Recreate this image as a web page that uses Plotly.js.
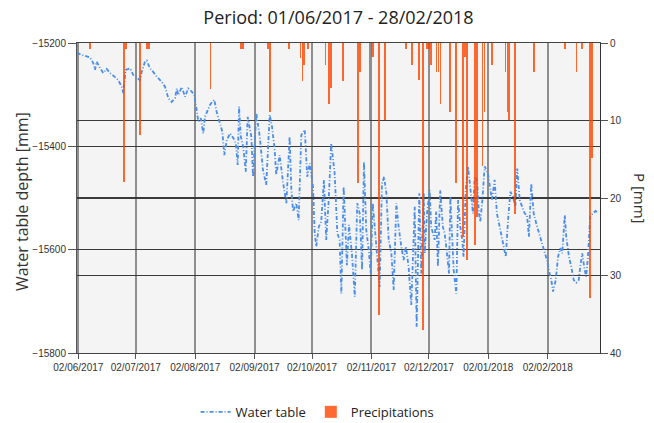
<!DOCTYPE html>
<html>
<head>
<meta charset="utf-8">
<script src="https://cdn.plot.ly/plotly-3.0.1.min.js"></script>
<style>html,body{margin:0;padding:0;background:#fff;}#chart{width:654px;height:423px;}</style>
</head>
<body>
<div id="chart"></div>
<script>
// Day offsets from 01/06/2017 00:00 and water table depth [mm]
const wtDay = [
0.2,2.8,7.1,8.8,9.7,10.6,12.3,14.0,15.8,17.5,
20.2,21.9,23.7,24.5,25.7,28.0,29.7,31.5,33.2,34.1,
35.8,36.7,38.4,40.1,41.9,44.5,46.3,48.0,49.7,51.5,
52.4,53.2,55.0,56.7,58.4,60.2,61.5,62.8,63.6,65.0,
66.2,67.1,68.5,69.7,70.9,72.0,73.2,75.0,76.2,77.2,
78.5,80.2,81.9,83.2,84.2,84.9,85.8,87.1,88.4,89.4,
91.3,92.2,93.9,95.7,97.4,99.1,100.9,102.1,103.5,104.3,
106.1,107.8,109.6,111.3,112.2,113.1,114.8,116.0,117.4,119.2,
120.5,121.8,123.5,124.4,125.2,126.5,127.8,129.2,130.4,131.7,
133.0,134.8,136.2,137.4,138.3,139.5,140.6,141.2,142.3,143.8,
145.3,146.6,147.9,149.1,150.1,151.3,152.6,153.6,154.7,155.7,
157.1,158.3,159.5,160.6,161.8,163.0,164.4,165.6,167.0,168.2,
169.6,170.8,172.0,173.4,174.8,176.6,177.6,179.0,180.0,181.3,
181.8,183.0,184.4,185.2,187.0,187.8,188.7,189.9,191.3,192.2,
193.4,194.5,195.2,196.2,196.9,198.3,199.2,200.4,201.4,202.1,
203.2,204.4,205.3,206.1,207.0,207.9,209.1,210.1,210.8,211.9,
213.1,214.8,215.7,216.9,218.3,219.5,221.3,223.0,224.1,225.3,
226.5,227.9,229.1,230.1,231.4,232.7,234.0,235.2,236.2,237.4,
238.7,240.0,241.4,242.6,243.9,245.6,247.0,247.9,248.8,250.2,
251.4,252.6,253.6,254.9,255.7,257.1,258.3,259.6,260.9,262.2,
263.0,264.0,265.3,266.1,267.0,268.2,269.6,271.0,272.2
];
const wtDepth = [
-15219,-15223,-15228,-15239,-15252,-15236,-15248,-15258,-15250,-15258,
-15266,-15272,-15285,-15297,-15252,-15249,-15262,-15268,-15272,-15256,
-15236,-15234,-15249,-15256,-15265,-15275,-15285,-15307,-15314,-15307,
-15288,-15301,-15285,-15304,-15288,-15294,-15301,-15330,-15352,-15346,
-15375,-15343,-15330,-15320,-15314,-15310,-15333,-15355,-15372,-15417,
-15388,-15375,-15384,-15394,-15436,-15323,-15381,-15401,-15449,-15343,
-15381,-15459,-15336,-15381,-15446,-15475,-15339,-15362,-15407,-15455,
-15417,-15468,-15510,-15381,-15484,-15526,-15510,-15543,-15378,-15368,
-15459,-15433,-15478,-15568,-15594,-15556,-15546,-15465,-15581,-15504,
-15394,-15452,-15568,-15581,-15685,-15478,-15581,-15630,-15552,-15607,
-15691,-15510,-15530,-15639,-15430,-15562,-15601,-15646,-15510,-15556,
-15607,-15672,-15472,-15459,-15491,-15581,-15607,-15678,-15510,-15556,
-15594,-15620,-15594,-15633,-15707,-15517,-15749,-15491,-15646,-15491,
-15607,-15530,-15485,-15556,-15581,-15526,-15633,-15485,-15556,-15568,
-15607,-15646,-15497,-15581,-15639,-15685,-15504,-15556,-15581,-15614,
-15485,-15439,-15472,-15497,-15530,-15459,-15465,-15530,-15546,-15504,
-15439,-15452,-15478,-15504,-15465,-15530,-15562,-15594,-15614,-15543,
-15488,-15497,-15517,-15443,-15504,-15517,-15530,-15533,-15575,-15472,
-15530,-15549,-15568,-15581,-15601,-15620,-15646,-15659,-15681,-15659,
-15614,-15597,-15607,-15533,-15575,-15614,-15633,-15659,-15664,-15659,
-15633,-15607,-15639,-15652,-15614,-15536,-15530,-15525,-15528
];

// Precipitation: day offset from 01/06/2017 and P [mm]
const pDay = [7,25,26,33,37,38,70,86,87,100,
101,111,117,118,119,121,130,132,133,139,
147,148,153,154,155,158,161,172,175,179,
181,183,184,185,188,189,190,195,198,202,
203,204,208,209,212,213,217,224,225,226,
229,239,255,261,264,268,269];
const pVal = [0.8,17.9,0.8,11.9,0.8,0.8,5.9,0.8,0.8,0.8,
8.9,0.8,1.9,4.9,2.8,0.8,2.8,7.9,5.8,4.9,
18.0,3.8,9.9,1.8,1.8,35.1,9.9,0.8,2.8,4.8,
37.0,0.8,0.8,2.8,3.8,3.8,7.9,8.9,18.0,25.0,
1.8,28.0,26.0,22.4,15.9,8.9,2.8,3.8,8.9,9.9,
22.0,3.8,0.8,3.8,0.8,32.9,14.9];

const tickDates = ['2017-06-02','2017-07-02','2017-08-02','2017-09-02','2017-10-02','2017-11-02','2017-12-02','2018-01-02','2018-02-02'];
const tickLabels = ['02/06/2017','02/07/2017','02/08/2017','02/09/2017','02/10/2017','02/11/2017','02/12/2017','02/01/2018','02/02/2018'];

const DAY = 86400000;
const T0 = Date.UTC(2017, 5, 1);
const toDate = d => T0 + d * DAY;

const tickFont = {family: 'Liberation Sans Narrow, Liberation Sans, Arial, sans-serif', size: 10, color: '#333'};

const traces = [
  {
    type: 'scatter', mode: 'lines', name: 'Water table',
    x: wtDay.map(toDate), y: wtDepth,
    line: {color: '#4a8eea', width: 1.8, dash: '4px,2px,1px,2px'},
    yaxis: 'y'
  },
  {
    type: 'bar', name: 'Precipitations',
    x: pDay.map(toDate), y: pVal,
    width: 0.95 * DAY,
    marker: {color: '#ff4500', line: {width: 0}},
    opacity: 0.8,
    yaxis: 'y2'
  }
];

const layout = {
  width: 654, height: 423,
  margin: {l: 77, r: 54, t: 43, b: 70, autoexpand: false},
  paper_bgcolor: '#ffffff', plot_bgcolor: '#f4f4f4',
  title: {text: 'Period: 01/06/2017 - 28/02/2018', font: {family: 'Open Sans, sans-serif', size: 18, color: '#222'},
          x: 0.5, xref: 'paper', xanchor: 'center', y: 1 - 18/423, yref: 'container', yanchor: 'middle'},
  xaxis: {
    type: 'date', range: [toDate(0.32), toDate(273.3)],
    tickmode: 'array', tickvals: tickDates, ticktext: tickLabels,
    showgrid: true, gridcolor: '#8e8e8e', gridwidth: 2,
    ticks: 'outside', ticklen: 5, tickcolor: '#555',
    showline: true, linecolor: '#444', linewidth: 1, mirror: true,
    zeroline: false, tickfont: tickFont, automargin: false
  },
  yaxis: {
    range: [-15800, -15200], tick0: -15800, dtick: 200, tickformat: 'd',
    ticks: 'outside', ticklen: 8, tickcolor: '#555',
    showgrid: true, gridcolor: '#3a3a3a', gridwidth: 1.5,
    showline: true, linecolor: '#555', linewidth: 1,
    zeroline: false, tickfont: tickFont, automargin: false
  },
  yaxis2: {
    overlaying: 'y', side: 'right', range: [40, 0], tick0: 0, dtick: 10,
    ticks: 'outside', ticklen: 7, tickcolor: '#555',
    showgrid: true, gridcolor: '#3a3a3a', gridwidth: 1.5,
    showline: true, linecolor: '#333', linewidth: 1,
    zeroline: false, tickfont: tickFont, automargin: false
  },
  bargap: 0,
  showlegend: true,
  legend: {orientation: 'h', x: 0.46, xanchor: 'center', y: -0.19, yanchor: 'middle',
           font: {family: 'Open Sans, sans-serif', size: 13, color: '#222'}, itemwidth: 30, traceorder: 'normal'},
  annotations: [
    {text: 'Water table depth [mm]', textangle: -90, xref: 'paper', yref: 'paper', x: -0.105, y: 0.487,
     xanchor: 'center', yanchor: 'middle', showarrow: false, font: {family: 'Open Sans, sans-serif', size: 16, color: '#333'}},
    {text: 'P [mm]', textangle: 90, xref: 'paper', yref: 'paper', x: 1.0765, y: 0.5,
     xanchor: 'center', yanchor: 'middle', showarrow: false, font: {family: 'Open Sans, sans-serif', size: 15, color: '#333'}}
  ]
};

Plotly.newPlot('chart', traces, layout, {staticPlot: true, displayModeBar: false});
</script>
</body>
</html>
